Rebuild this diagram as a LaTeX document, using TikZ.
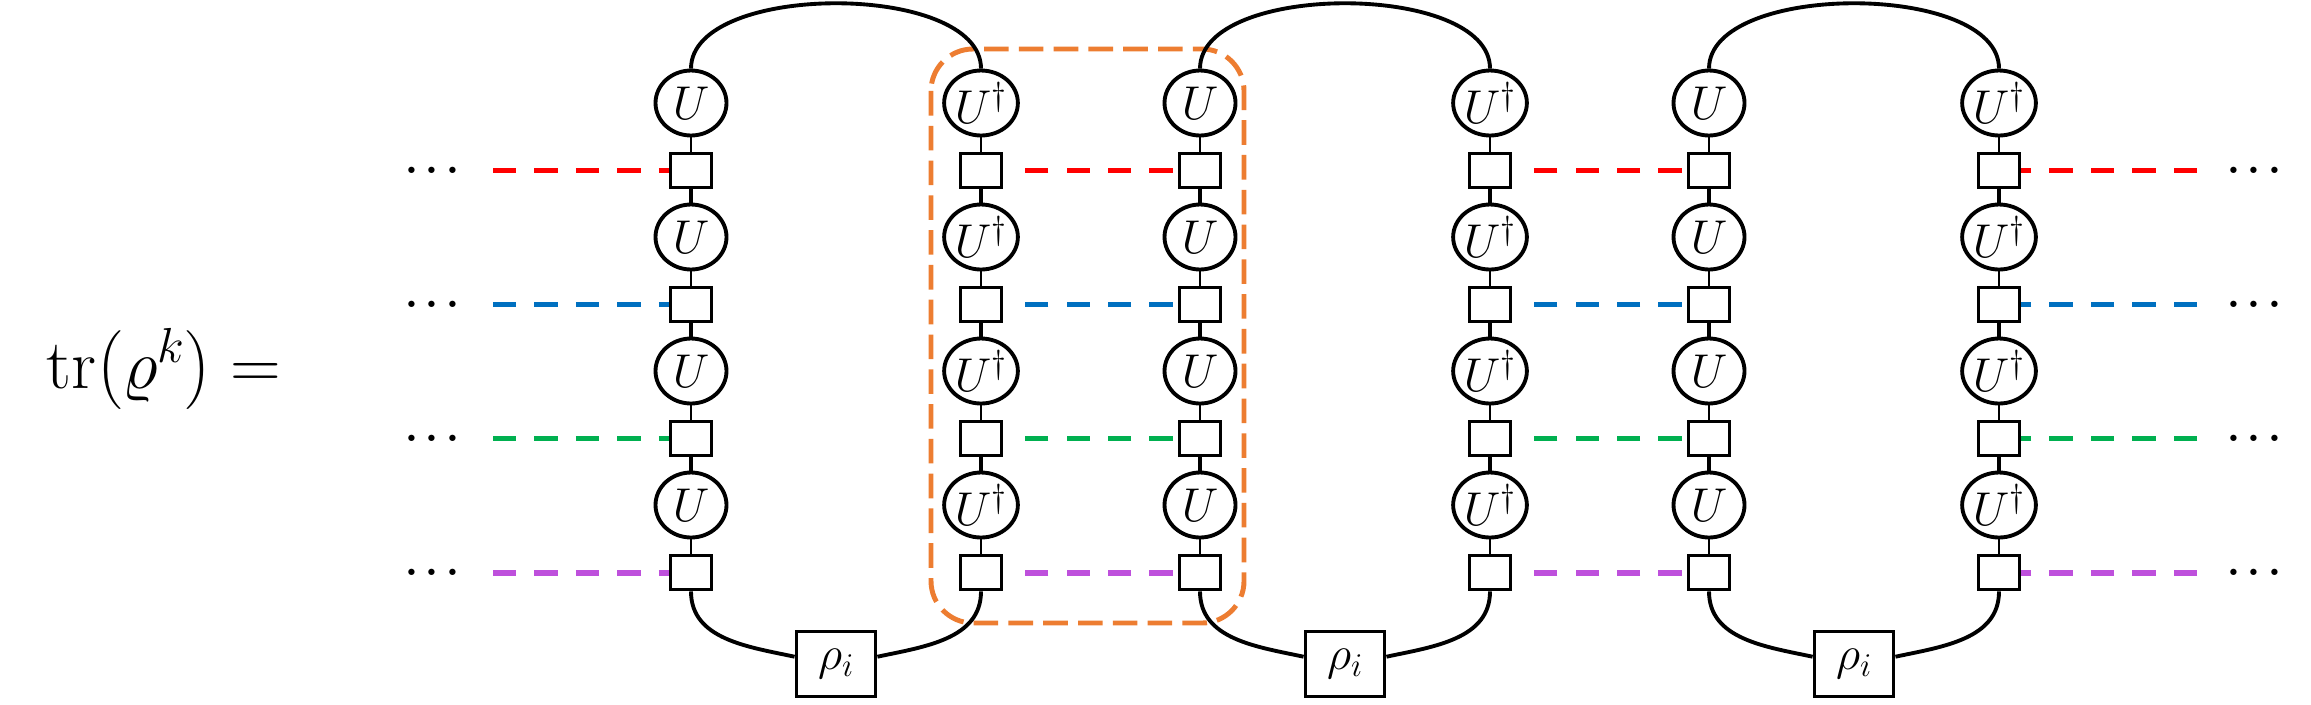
\documentclass[tikz,border=0pt]{standalone}
\usepackage{fix-cm}
\usepackage{amsmath}
\usepackage{tikz}
\usetikzlibrary{shapes.geometric}
\usepackage{xcolor}
\definecolor{legred}{RGB}{255,0,0}
\definecolor{legblue}{RGB}{0,112,192}
\definecolor{leggreen}{RGB}{0,176,80}
\definecolor{legpurple}{RGB}{190,80,220}
\definecolor{cellorange}{RGB}{237,125,49}
\tikzset{
    gate/.style={draw=black, ellipse, line width=2.2pt, fill=white, inner sep=0pt,
        minimum width=1.42cm, minimum height=1.3cm, font=\fontsize{27}{30}\selectfont},
    site/.style={draw=black, rectangle, line width=2.2pt, fill=white, inner sep=0pt,
        minimum width=0.82cm, minimum height=0.68cm},
    rhobox/.style={draw=black, rectangle, line width=2.2pt, fill=white, inner sep=0pt,
        minimum width=1.58cm, minimum height=1.3cm, font=\fontsize{27}{30}\selectfont},
    wire/.style={draw=black, line width=2.2pt},
    leg/.style={line width=3.4pt, dash pattern=on 13.2pt off 10.4pt},
    cell/.style={draw=cellorange, line width=2.8pt, dash pattern=on 14pt off 5.8pt, rounded corners=0.84cm},
    etc/.style={inner sep=0pt, font=\fontsize{23}{26}\selectfont\boldmath, text height=11.5pt, text depth=0pt}
}

\begin{document}
\begin{tikzpicture}[x=0.02cm, y=-0.02cm]
    \fill[white] (0,0) rectangle (2311,704);
    \useasboundingbox (0,0) rectangle (2311,704);
    \node[anchor=base west, inner sep=0pt, font=\fontsize{40}{46}\selectfont] (lhs) at (46,388)
        {$\mathrm{tr}\bigl(\varrho^{k}\bigr) =$};
    \draw[cell] (931,49) rectangle (1244,623);
    \foreach \c/\x/\lab in {1/691/U, 2/981/U^\dagger, 3/1200/U, 4/1490/U^\dagger, 5/1709/U, 6/1999/U^\dagger} {
        \foreach \i in {1,...,4} {
            \node[gate] (u\c\i) at (\x,{103+134*(\i-1)}) {$\lab$};
            \node[site] (s\c\i) at (\x,{170.5+134*(\i-1)}) {};
            \draw[line width=1.2pt] (u\c\i) -- (s\c\i);
        }
        \foreach \i/\j in {1/2, 2/3, 3/4} {
            \draw[line width=2pt] (s\c\i) -- (u\c\j);
        }
    }
    \foreach \k/\a/\b/\x in {1/1/2/836, 2/3/4/1345, 3/5/6/1854} {
        \node[rhobox] (rho\k) at (\x,664) {$\rho_i$};
        \draw[wire] (u\a1.north) to[out=90, in=90, looseness=0.77] (u\b1.north);
        \draw[wire] (s\a4.south) to[out=-90, in=168] (rho\k.170);
        \draw[wire] (rho\k.10) to[out=12, in=-90] (s\b4.south);
    }
    \foreach \i/\col in {1/legred, 2/legblue, 3/leggreen, 4/legpurple} {
        \node[etc] (dl\i) at (436,{170.5+134*(\i-1)}) {$\cdots$};
        \node[etc] (dr\i) at (2258,{170.5+134*(\i-1)}) {$\cdots$};
        \coordinate (ll\i) at (493,{170.5+134*(\i-1)});
        \coordinate (rr\i) at (2197,{170.5+134*(\i-1)});
        \draw[leg, draw=\col] (ll\i) -- (s1\i);
        \draw[leg, draw=\col, dash phase=20.8pt, shorten >=0.16cm] (s3\i) -- (s2\i);
        \draw[leg, draw=\col, dash phase=20.8pt, shorten >=0.16cm] (s5\i) -- (s4\i);
        \draw[leg, draw=\col] (rr\i) -- (s6\i);
    }
\end{tikzpicture}
\end{document}
